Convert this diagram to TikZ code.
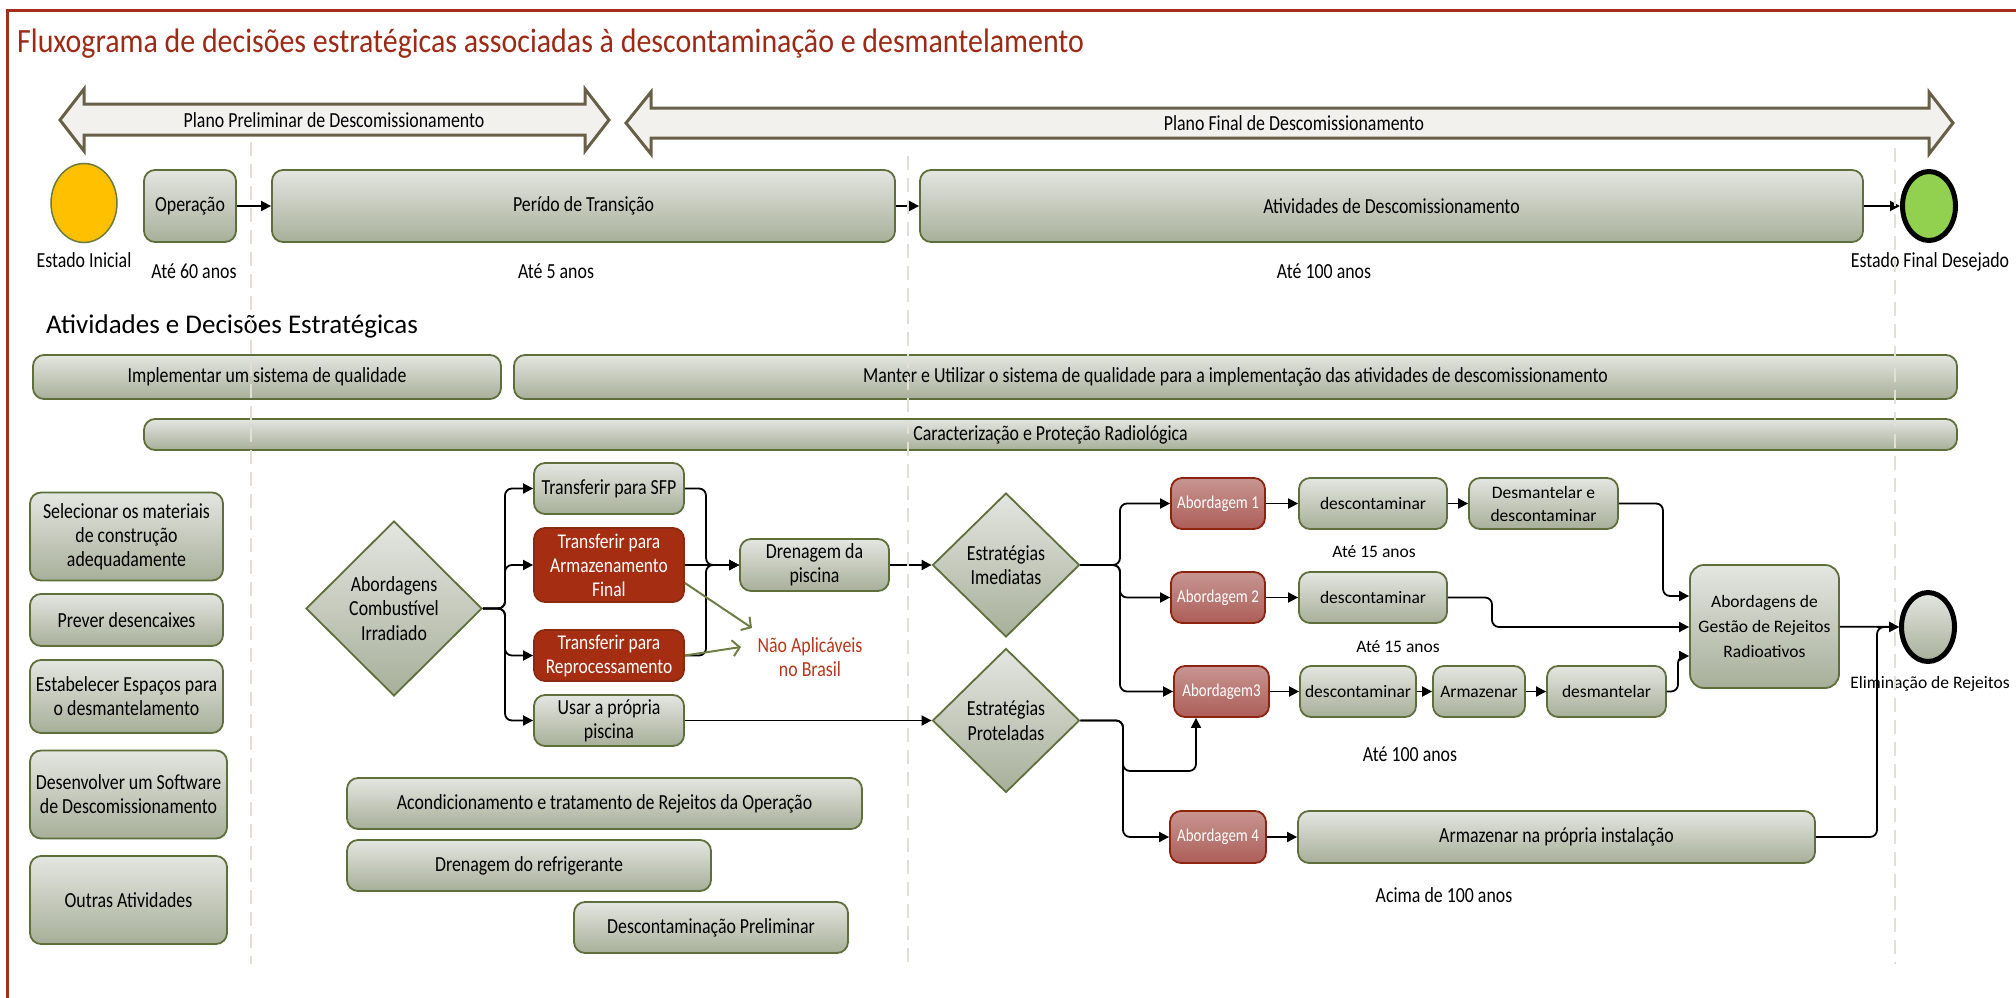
\documentclass[tikz,border=0pt]{standalone}
\usepackage{fontspec}
\usepackage{tikz}
\usetikzlibrary{arrows.meta,positioning,calc,shapes.geometric}
\newfontfamily\fcond[FakeStretch=0.83]{Carlito}
\newfontfamily\ftitle[FakeStretch=0.88]{Carlito}
\newfontfamily\fnorm{Carlito}

\definecolor{framered}{HTML}{A2301B}
\definecolor{titlered}{HTML}{9C2A16}
\definecolor{boxtop}{HTML}{E4E6E1}
\definecolor{boxbot}{HTML}{A7AF99}
\definecolor{boxline}{HTML}{5E6F3C}
\definecolor{redfill}{HTML}{A52D11}
\definecolor{redline}{HTML}{8B2A12}
\definecolor{abtop}{HTML}{C79591}
\definecolor{abbot}{HTML}{AD5E58}
\definecolor{abline}{HTML}{8E2410}
\definecolor{startfill}{HTML}{FFC000}
\definecolor{startline}{HTML}{6B7A3F}
\definecolor{endfill}{HTML}{92D050}
\definecolor{banfill}{HTML}{F2F1EE}
\definecolor{banline}{HTML}{675F47}
\definecolor{guidecol}{HTML}{E2E0D5}
\definecolor{natext}{HTML}{B5371C}
\definecolor{naline}{HTML}{6E7F45}

\tikzset{
    >={Triangle[length=10pt,width=10pt]},
    box/.style={rectangle,rounded corners=11pt,draw=boxline,line width=1.8pt,
        top color=boxtop,bottom color=boxbot,align=center,inner sep=0pt,
        font=\fcond\fontsize{21.5}{24}\selectfont},
    wbox/.style={box,font=\fnorm\fontsize{17.5}{23}\selectfont},
    redbox/.style={box,draw=redline,top color=redfill,bottom color=redfill,
        text=white,font=\fcond\fontsize{21}{24}\selectfont},
    abbox/.style={box,draw=abline,top color=abtop,bottom color=abbot,
        text=white,font=\fcond\fontsize{18}{20}\selectfont},
    decision/.style={diamond,draw=boxline,line width=1.8pt,top color=boxtop,
        bottom color=boxbot,align=center,inner sep=0pt,
        font=\fcond\fontsize{21.5}{24.5}\selectfont},
    event/.style={ellipse,inner sep=0pt},
    lbl/.style={font=\fcond\fontsize{21.5}{24}\selectfont,inner sep=0pt,anchor=base},
    wlbl/.style={font=\fnorm\fontsize{17.5}{21}\selectfont,inner sep=0pt,anchor=base},
    conn/.style={->,line width=1.8pt,rounded corners=7pt},
    naconn/.style={-{Straight Barb[length=7pt,width=16pt]},draw=naline,line width=2pt},
    banner/.style={draw=banline,fill=banfill,line width=3pt,line join=miter},
    guide/.style={draw=guidecol,line width=1.6pt,dash pattern=on 14pt off 8pt},
    borda/.style={draw=framered,line width=3pt}
}

\begin{document}
\begin{tikzpicture}[x=1pt,y=-1pt]
    \useasboundingbox (0,0) rectangle (2016,998);

    % Frame and title
    \draw[borda] (7,998) -- (7,11) -- (2016,11);
    \node[anchor=base west,inner sep=0pt,text=titlered,font=\ftitle\fontsize{34}{38}\selectfont]
        (titulo) at (17,53) {Fluxograma de decisões estratégicas associadas à descontaminação e desmantelamento};

    % Plan banners
    \draw[banner] (60,120) -- (84,89) -- (84,104) -- (585,104) -- (585,89) -- (609,120)
        -- (585,151) -- (585,135) -- (84,135) -- (84,151) -- cycle;
    \node[lbl,anchor=center] (plano1) at (334,120) {Plano Preliminar de Descomissionamento};
    \draw[banner] (626,123) -- (651,92) -- (651,108) -- (1929,108) -- (1929,92) -- (1953,123)
        -- (1929,154) -- (1929,138) -- (651,138) -- (651,154) -- cycle;
    \node[lbl,anchor=center] (plano2) at (1294,123) {Plano Final de Descomissionamento};

    % Timeline
    \node[event,draw=startline,line width=1.5pt,fill=startfill,minimum width=66pt,minimum height=79pt] (inicio) at (84,203) {};
    \node[lbl] (linicio) at (84,267) {Estado Inicial};
    \node[box,minimum width=92pt,minimum height=72pt] (oper) at (190,206) {Operação};
    \node[lbl] (toper) at (194,278) {Até 60 anos};
    \node[box,minimum width=623pt,minimum height=72pt] (transicao) at (583.5,206) {Perído de Transição};
    \node[lbl] (ttrans) at (556,278) {Até 5 anos};
    \node[box,minimum width=943pt,minimum height=72pt] (ativdesc) at (1391.5,206) {Atividades de Descomissionamento};
    \node[lbl] (tativ) at (1324,278) {Até 100 anos};
    \node[event,draw=black,line width=5pt,fill=endfill,minimum width=53pt,minimum height=69pt] (fim) at (1929,206) {};
    \node[lbl] (lfim) at (1930,267) {Estado Final Desejado};
    \draw[conn] (oper) -- (transicao);
    \draw[conn] (transicao) -- (ativdesc);
    \draw[conn] (ativdesc) -- (fim);

    % Strategic activities
    \node[anchor=base west,inner sep=0pt,font=\fnorm\fontsize{27}{31}\selectfont] (secao) at (46,333) {Atividades e Decisões Estratégicas};
    \node[box,minimum width=468pt,minimum height=44pt] (qual1) at (267,377) {Implementar um sistema de qualidade};
    \node[box,minimum width=1443pt,minimum height=44pt] (qual2) at (1235.5,377) {Manter e Utilizar o sistema de qualidade para a implementação das atividades de descomissionamento};
    \node[box,minimum width=1813pt,minimum height=31pt] (caract) at (1050.5,434.5) {Caracterização e Proteção Radiológica};

    \node[box,minimum width=193pt,minimum height=88pt] (selec) at (126.5,536.5) {Selecionar os materiais\\de construção\\adequadamente};
    \node[box,minimum width=193pt,minimum height=52pt] (prever) at (126.5,620) {Prever desencaixes};
    \node[box,minimum width=193pt,minimum height=73pt] (espacos) at (126.5,696.5) {Estabelecer Espaços para\\o desmantelamento};
    \node[box,minimum width=197pt,minimum height=88pt] (software) at (128.5,794.5) {Desenvolver um Software\\de Descomissionamento};
    \node[box,minimum width=197pt,minimum height=88pt] (outras) at (128.5,900) {Outras Atividades};

    \node[box,minimum width=515pt,minimum height=51pt] (acond) at (604.5,803.5) {Acondicionamento e tratamento de Rejeitos da Operação};
    \node[box,minimum width=364pt,minimum height=51pt] (refrig) at (529,865.5) {Drenagem do refrigerante};
    \node[box,minimum width=274pt,minimum height=51pt] (descprel) at (711,927.5) {Descontaminação Preliminar};

    % Spent fuel
    \node[decision,minimum width=176pt,minimum height=175pt] (combust) at (394,608.5) {Abordagens\\Combustível\\Irradiado};
    \node[box,minimum width=150pt,minimum height=51pt] (sfp) at (609,488.5) {Transferir para SFP};
    \node[redbox,minimum width=150pt,minimum height=74pt] (armfinal) at (609,565) {Transferir para\\Armazenamento\\Final};
    \node[redbox,minimum width=150pt,minimum height=51pt] (reproc) at (609,655.5) {Transferir para\\Reprocessamento};
    \node[box,minimum width=150pt,minimum height=51pt] (propria) at (609,720.5) {Usar a própria\\piscina};
    \node[box,minimum width=149pt,minimum height=52pt] (drenagem) at (814.5,565) {Drenagem da\\piscina};
    \node[font=\fcond\fontsize{21.5}{24}\selectfont,text=natext,align=center,inner sep=0pt] (naoaplic) at (810,657) {Não Aplicáveis\\no Brasil};

    \coordinate (fork1) at (505,608.5);
    \coordinate (junta) at (706,565);
    \draw[conn] (combust.east) -- (fork1) |- (sfp.west);
    \draw[conn] (combust.east) -- (fork1) |- (armfinal.west);
    \draw[conn] (combust.east) -- (fork1) |- (reproc.west);
    \draw[conn] (combust.east) -- (fork1) |- (propria.west);
    \draw[conn] (sfp.east) -| (junta) -- (drenagem.west);
    \draw[conn] (armfinal.east) -- (drenagem.west);
    \draw[conn] (reproc.east) -| (junta) -- (drenagem.west);

    \coordinate (na1) at (752,628);
    \coordinate (na2) at (741,647);
    \draw[naconn] ([yshift=-18pt]armfinal.east) -- (na1);
    \draw[naconn] (reproc.east) -- (na2);

    % Decommissioning strategies
    \node[decision,minimum width=147pt,minimum height=144pt] (imediatas) at (1006,565) {Estratégias\\Imediatas};
    \node[decision,minimum width=147pt,minimum height=144pt] (proteladas) at (1006,720.5) {Estratégias\\Proteladas};
    \draw[conn] (drenagem) -- (imediatas);
    \draw[conn] (propria) -- (proteladas);

    \node[abbox,minimum width=94pt,minimum height=51pt] (abord1) at (1218,503.5) {Abordagem 1};
    \node[wbox,minimum width=148pt,minimum height=51pt] (desc1) at (1373,503.5) {descontaminar};
    \node[wbox,minimum width=149pt,minimum height=51pt] (desmdesc) at (1543.5,503.5) {Desmantelar e\\descontaminar};
    \node[wlbl] (t15a) at (1374,557) {Até 15 anos};

    \node[abbox,minimum width=94pt,minimum height=51pt] (abord2) at (1218,597.5) {Abordagem 2};
    \node[wbox,minimum width=148pt,minimum height=51pt] (desc2) at (1373,597.5) {descontaminar};
    \node[wlbl] (t15b) at (1398,652) {Até 15 anos};

    \node[abbox,minimum width=95pt,minimum height=51pt] (abord3) at (1221.5,691.5) {Abordagem3};
    \node[wbox,minimum width=116pt,minimum height=51pt] (desc3) at (1358,691.5) {descontaminar};
    \node[wbox,minimum width=92pt,minimum height=51pt] (armaz) at (1479,691.5) {Armazenar};
    \node[wbox,minimum width=119pt,minimum height=51pt] (desmant) at (1606.5,691.5) {desmantelar};
    \node[lbl] (t100) at (1410,761) {Até 100 anos};

    \node[abbox,minimum width=96pt,minimum height=52pt] (abord4) at (1218,837) {Abordagem 4};
    \node[box,minimum width=517pt,minimum height=52pt] (armlocal) at (1556.5,837) {Armazenar na própria instalação};
    \node[lbl] (tacima) at (1444,902) {Acima de 100 anos};

    \node[wbox,rounded corners=14pt,font=\fnorm\fontsize{17.5}{25}\selectfont,minimum width=149pt,minimum height=123pt] (gestao) at (1764.5,626.5) {Abordagens de\\Gestão de Rejeitos\\Radioativos};
    \node[event,draw=black,line width=5pt,top color=boxtop,bottom color=boxbot,minimum width=53pt,minimum height=69pt] (elimin) at (1928,627) {};
    \node[wlbl] (lelimin) at (1930,688) {Eliminação de Rejeitos};

    \coordinate (fork2) at (1120,565);
    \draw[conn] (imediatas.east) -- (fork2) |- (abord1.west);
    \draw[conn] (imediatas.east) -- (fork2) |- (abord2.west);
    \draw[conn] (imediatas.east) -- (fork2) |- (abord3.west);
    \draw[conn] (abord1) -- (desc1);
    \draw[conn] (desc1) -- (desmdesc);
    \draw[conn] (abord2) -- (desc2);
    \draw[conn] (abord3) -- (desc3);
    \draw[conn] (desc3) -- (armaz);
    \draw[conn] (armaz) -- (desmant);

    \coordinate (ga) at (1663,596);
    \coordinate (gb) at (1492,627);
    \coordinate (gc) at (1678,656);
    \draw[conn] (desmdesc.east) -| (ga) -- (ga -| gestao.west);
    \draw[conn] (desc2.east) -| (gb) -- (gb -| gestao.west);
    \draw[conn] (desmant.east) -| (gc) -- (gc -| gestao.west);

    \coordinate (fork3) at (1123,771);
    \coordinate (sobe) at (1196,771);
    \draw[conn] (proteladas.east) -| (fork3) -- (sobe) -- (sobe |- abord3.south);
    \draw[conn] (proteladas.east) -| (fork3) |- (abord4.west);
    \draw[conn] (abord4) -- (armlocal);

    \coordinate (ej) at (1877,627);
    \draw[conn] (armlocal.east) -| (ej) -- (elimin.west);
    \draw[conn] (gestao) -- (elimin);

    % Phase guides
    \foreach \gx/\gy in {251/142,908/156,1895/148}
        \draw[guide] (\gx,\gy) -- (\gx,964);
\end{tikzpicture}
\end{document}
